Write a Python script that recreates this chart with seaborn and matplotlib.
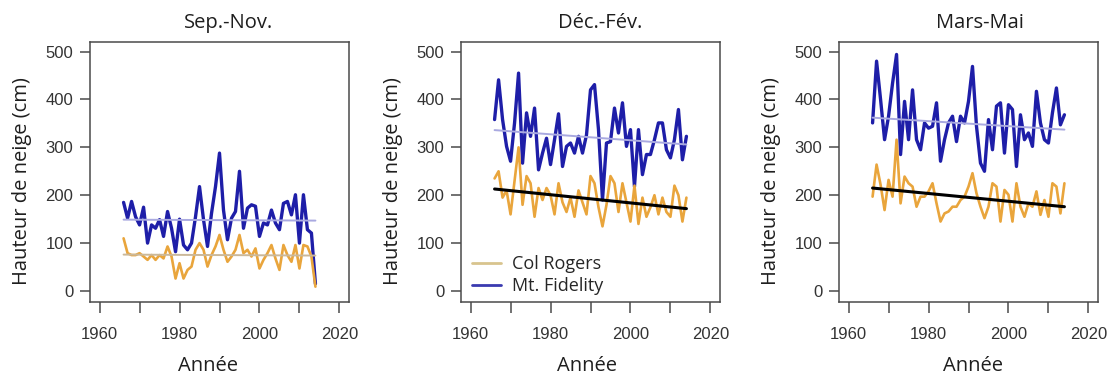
import numpy as np
import pandas as pd
import matplotlib
matplotlib.use("Agg")
import matplotlib.pyplot as plt
from matplotlib.lines import Line2D
import seaborn as sns

# ---------------- data ----------------
years = list(range(1966, 2015))

son_fidelity = [185, 152, 187, 155, 138, 175, 100, 138, 131, 149, 114, 166, 131, 82, 150,
                96, 86, 100, 155, 218, 149, 93, 162, 218, 288, 169, 107, 152, 166, 250,
                131, 173, 180, 177, 114, 142, 138, 169, 142, 128, 183, 187, 159, 201, 100,
                201, 128, 121, 15]
son_rogers = [110, 79, 75, 75, 79, 72, 65, 75, 65, 75, 68, 93, 72, 26, 58,
              26, 44, 51, 86, 100, 86, 51, 75, 93, 117, 86, 61, 72, 86, 117,
              79, 86, 72, 89, 47, 65, 79, 96, 68, 44, 96, 75, 61, 96, 47,
              96, 93, 72, 9]

djf_fidelity = [358, 441, 358, 302, 271, 351, 455, 267, 372, 323, 382, 253, 288, 319, 264,
                316, 370, 260, 302, 309, 288, 323, 288, 326, 420, 431, 337, 190, 309, 312,
                382, 330, 393, 302, 337, 218, 337, 243, 285, 285, 316, 351, 351, 295, 278,
                316, 379, 274, 323]
djf_rogers = [235, 250, 195, 210, 160, 230, 300, 180, 240, 225, 155, 215, 190, 215, 200,
              160, 225, 185, 165, 195, 155, 210, 185, 160, 240, 225, 175, 135, 180, 240,
              225, 165, 225, 185, 145, 220, 140, 195, 155, 175, 200, 160, 195, 165, 155,
              220, 200, 145, 195]

mam_fidelity = [351, 480, 400, 316, 365, 434, 494, 285, 396, 316, 420, 316, 295, 351, 340,
                344, 393, 271, 316, 351, 365, 312, 365, 351, 396, 469, 344, 267, 250, 358,
                295, 386, 393, 288, 389, 379, 260, 368, 316, 330, 302, 417, 351, 316, 309,
                372, 424, 347, 368]
mam_rogers = [197, 264, 222, 169, 232, 197, 316, 183, 239, 225, 218, 176, 197, 197, 208,
              225, 183, 145, 162, 166, 176, 176, 190, 197, 218, 246, 204, 176, 152, 176,
              225, 218, 145, 211, 201, 145, 225, 176, 155, 183, 176, 208, 159, 190, 155,
              225, 218, 162, 225]

# linear trends: (start value 1966, end value 2014)
trend_years = [1966, 2014]
son_fidelity_trend = [149, 147]
son_rogers_trend = [76, 74]
djf_fidelity_trend = [336, 306]
djf_rogers_trend = [213, 172]
mam_fidelity_trend = [362, 337]
mam_rogers_trend = [215, 176]

titles = ["Sep.-Nov.", "Déc.-Fév.", "Mars-Mai"]
series_labels = ["Col Rogers", "Mt. Fidelity"]
x_label = "Année"
y_label = "Hauteur de neige (cm)"
x_ticks = [1960, 1970, 1980, 1990, 2000, 2010, 2020]
x_tick_labels = ["1960", "", "1980", "", "2000", "", "2020"]
y_ticks = [0, 100, 200, 300, 400, 500]

# ---------------- style ----------------
sns.set_style("white")
plt.rcParams['font.family'] = ['Open Sans', 'DejaVu Sans']

BLUE = "#1e1ea8"
ORANGE = "#e9a53c"
LIGHT_BLUE = "#a9a9e0"
LIGHT_ORANGE = "#cbb899"
SPINE = "#4a4a4a"
TXT = "#1e1e1e"

fig = plt.figure(figsize=(11.09, 3.78), dpi=100)
W, H = 1109, 378
lefts = [90, 461, 839]
panel_w, top_px, bot_px = 259, 42, 302

panels = [
    (son_fidelity, son_rogers, son_fidelity_trend, son_rogers_trend, False),
    (djf_fidelity, djf_rogers, djf_fidelity_trend, djf_rogers_trend, True),
    (mam_fidelity, mam_rogers, mam_fidelity_trend, mam_rogers_trend, True),
]
xlabel_x = [0.455, 0.486, 0.517]
title_x = [0.535, 0.537, 0.544]

for i, (fid, rog, fid_tr, rog_tr, rog_sig) in enumerate(panels):
    ax = fig.add_axes([lefts[i] / W, 1 - bot_px / H, panel_w / W, (bot_px - top_px) / H])
    df = pd.DataFrame({"year": years, "fid": fid, "rog": rog})
    tr = pd.DataFrame({"year": trend_years, "fid": fid_tr, "rog": rog_tr})

    sns.lineplot(data=df, x="year", y="fid", ax=ax, color=BLUE, lw=2.4, zorder=2)
    sns.lineplot(data=df, x="year", y="rog", ax=ax, color=ORANGE, lw=1.9, zorder=3)
    sns.lineplot(data=tr, x="year", y="fid", ax=ax, color=LIGHT_BLUE, lw=1.4, zorder=4)
    if rog_sig:
        sns.lineplot(data=tr, x="year", y="rog", ax=ax, color="black", lw=2.2, zorder=5)
    else:
        sns.lineplot(data=tr, x="year", y="rog", ax=ax, color=LIGHT_ORANGE, lw=1.4, zorder=4)

    ax.set_xlim(1957.6, 2022.4)
    ax.set_ylim(-23, 520)
    ax.set_xticks(x_ticks)
    ax.set_xticklabels(x_tick_labels, family="Liberation Sans", fontsize=12, color="#333333")
    ax.set_yticks(y_ticks)
    ax.set_yticklabels([str(v) for v in y_ticks], family="Liberation Sans", fontsize=12,
                       color="#333333")
    ax.tick_params(axis="x", direction="out", length=8, width=1.1, color=SPINE, pad=10,
                   bottom=True)
    ax.tick_params(axis="y", direction="out", length=7, width=1.1, color=SPINE, pad=5,
                   left=True)
    for s in ax.spines.values():
        s.set_color(SPINE)
        s.set_linewidth(1.1)

    ax.set_xlabel(x_label, fontsize=14.5, color=TXT)
    ax.xaxis.set_label_coords(xlabel_x[i], -0.245)
    ax.xaxis.label.set_va("center")
    ax.set_ylabel(y_label, fontsize=14.5, color=TXT)
    ax.yaxis.set_label_coords(-0.262, 0.465)
    ax.yaxis.label.set_va("center")
    ax.text(title_x[i], 1.073, titles[i], transform=ax.transAxes, ha="center", va="center",
            fontsize=14.5, color=TXT)

    if i == 1:
        handles = [Line2D([], [], color="#d8c48e", lw=2),
                   Line2D([], [], color="#3a3ab0", lw=2)]
        ax.legend(handles, series_labels, loc="lower left", bbox_to_anchor=(0.0, -0.015),
                  frameon=False, fontsize=13, handlelength=1.6, handletextpad=0.6,
                  labelspacing=0.2, borderaxespad=0.2)

fig.savefig("out.png", dpi=100)
